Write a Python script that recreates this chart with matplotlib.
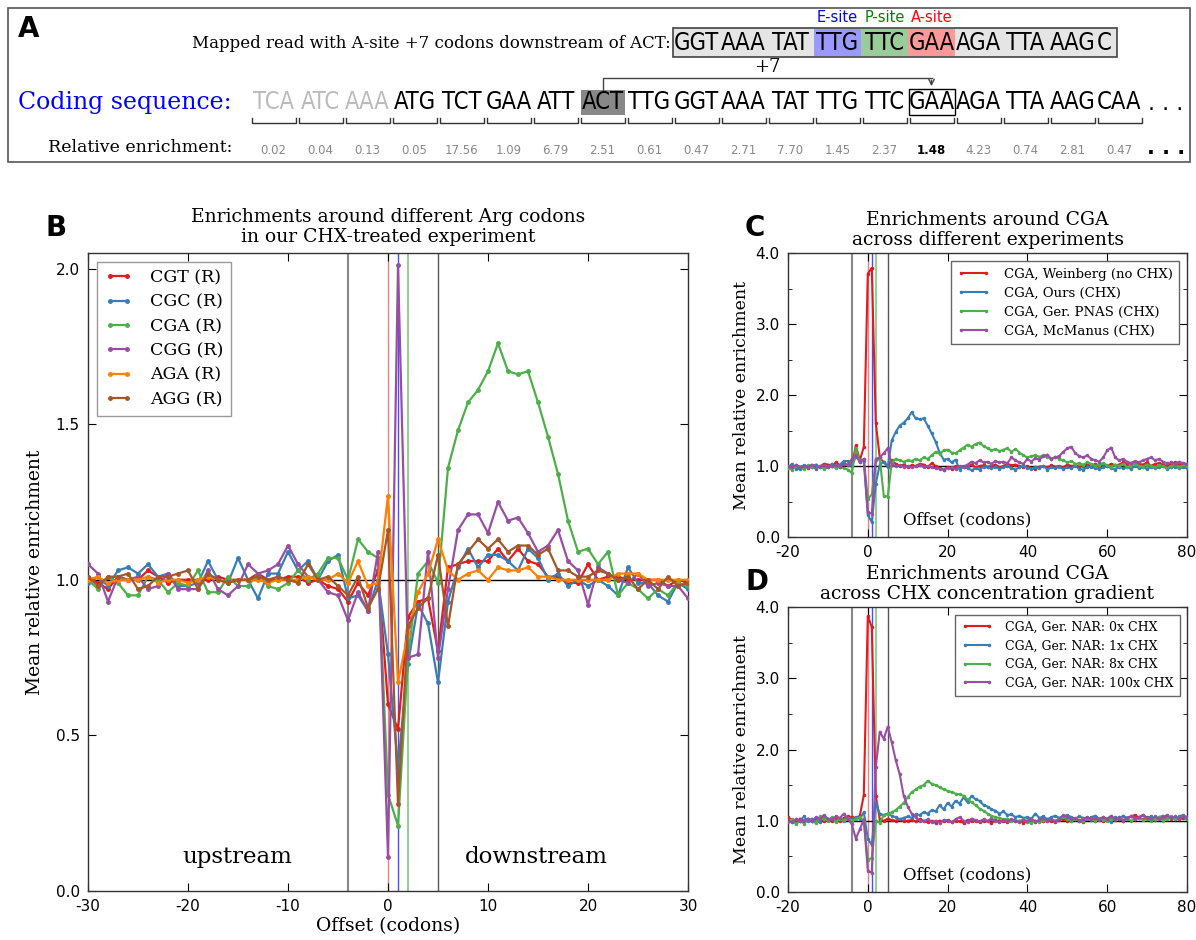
import numpy as np
import matplotlib
matplotlib.use('Agg')
import matplotlib.pyplot as plt
from matplotlib import font_manager
from matplotlib.patches import Rectangle
from matplotlib.ticker import MultipleLocator, FormatStrFormatter

plt.rcParams['axes.unicode_minus'] = False
plt.rcParams['font.family'] = 'DejaVu Sans'
SERIF = 'DejaVu Serif'

# ---------------- data: panel A ----------------
seq_codons = ['TCA', 'ATC', 'AAA', 'ATG', 'TCT', 'GAA', 'ATT', 'ACT', 'TTG', 'GGT',
              'AAA', 'TAT', 'TTG', 'TTC', 'GAA', 'AGA', 'TTA', 'AAG', 'CAA']
seq_enrich = ['0.02', '0.04', '0.13', '0.05', '17.56', '1.09', '6.79', '2.51', '0.61', '0.47',
              '2.71', '7.70', '1.45', '2.37', '1.48', '4.23', '0.74', '2.81', '0.47']
read_codons = ['GGT', 'AAA', 'TAT', 'TTG', 'TTC', 'GAA', 'AGA', 'TTA', 'AAG', 'C']
site_labels = ['E-site', 'P-site', 'A-site']

# ---------------- data: panel B (offset -30..30) ----------------
b_offsets = list(range(-30, 31))
b_labels = ['CGT (R)', 'CGC (R)', 'CGA (R)', 'CGG (R)', 'AGA (R)', 'AGG (R)']
b_cgt = [1.01, 0.99, 0.97, 1.01, 1.00, 1.00, 1.03, 1.01, 0.99, 1.00,
         1.00, 1.00, 1.00, 1.01, 1.00, 1.00, 1.00, 1.02, 1.00, 1.00,
         1.01, 1.01, 0.99, 1.00, 0.98, 0.97, 0.93, 0.99, 0.95, 1.03,
         0.60, 0.52, 0.88, 0.93, 0.94, 0.77, 1.04, 1.05, 1.06, 1.06,
         1.06, 1.10, 1.06, 1.10, 1.06, 1.05, 1.01, 1.01, 0.99, 0.99,
         1.05, 1.00, 1.01, 1.01, 1.00, 1.00, 1.00, 1.00, 0.98, 1.00,
         0.99]
b_cgc = [0.99, 1.01, 0.98, 1.03, 1.04, 1.02, 1.05, 1.01, 1.02, 0.98,
         0.98, 0.99, 1.06, 1.00, 0.99, 1.07, 1.00, 0.94, 1.02, 1.02,
         1.09, 1.03, 1.06, 1.00, 1.06, 1.08, 0.94, 0.95, 0.90, 1.00,
         0.76, 0.40, 0.73, 0.92, 0.86, 0.67, 0.93, 1.04, 1.10, 1.04,
         1.08, 1.08, 1.06, 1.03, 1.10, 1.07, 1.00, 1.02, 0.98, 1.00,
         0.98, 1.00, 0.98, 0.95, 1.04, 0.99, 0.99, 0.95, 0.93, 0.99,
         0.97]
b_cga = [1.00, 0.97, 1.01, 0.99, 0.95, 0.95, 1.01, 1.00, 0.96, 0.99,
         0.98, 1.03, 0.96, 0.96, 1.01, 0.98, 0.98, 1.02, 0.98, 0.97,
         0.99, 1.03, 1.00, 1.02, 1.07, 1.07, 1.00, 1.13, 1.09, 1.07,
         0.31, 0.21, 0.75, 1.02, 1.06, 0.99, 1.36, 1.48, 1.57, 1.61,
         1.67, 1.76, 1.67, 1.66, 1.67, 1.57, 1.46, 1.34, 1.19, 1.09,
         1.10, 1.05, 1.09, 0.95, 0.99, 0.97, 0.94, 0.97, 0.95, 0.99,
         0.98]
b_cgg = [1.05, 1.02, 0.93, 1.01, 1.00, 1.01, 0.97, 0.98, 1.02, 0.97,
         0.97, 0.97, 1.03, 0.97, 0.95, 0.98, 1.05, 1.02, 1.03, 1.05,
         1.11, 1.05, 1.01, 1.00, 0.96, 0.95, 0.87, 0.96, 0.90, 1.09,
         0.11, 2.01, 0.75, 0.76, 1.09, 0.75, 0.97, 1.16, 1.21, 1.21,
         1.15, 1.25, 1.19, 1.20, 1.15, 1.09, 1.11, 1.16, 1.06, 1.03,
         0.92, 1.04, 1.02, 1.00, 0.99, 1.02, 0.98, 0.99, 0.98, 0.98,
         0.94]
b_aga = [1.00, 1.01, 0.99, 1.00, 1.00, 1.00, 1.01, 0.99, 1.00, 1.00,
         0.99, 1.00, 1.01, 1.00, 0.99, 1.00, 1.00, 1.00, 0.99, 1.00,
         1.00, 1.00, 1.01, 1.00, 1.00, 1.02, 0.99, 1.06, 0.98, 0.99,
         1.27, 0.67, 0.83, 0.96, 1.02, 1.13, 1.03, 1.00, 1.02, 1.03,
         1.00, 1.04, 1.03, 1.03, 1.04, 1.01, 1.01, 1.00, 1.00, 1.00,
         1.00, 1.00, 1.00, 1.02, 1.02, 1.02, 1.00, 1.00, 1.00, 1.00,
         1.00]
b_agg = [1.01, 0.98, 1.01, 1.01, 1.02, 0.97, 0.98, 1.01, 1.01, 1.02,
         1.03, 0.97, 1.02, 1.00, 0.99, 1.00, 1.00, 1.01, 1.00, 1.01,
         1.00, 0.99, 1.05, 1.00, 1.01, 0.98, 0.95, 1.01, 0.91, 0.97,
         1.16, 0.28, 0.85, 0.91, 0.94, 1.08, 0.85, 1.05, 1.09, 1.13,
         1.10, 1.13, 1.09, 1.11, 1.11, 1.08, 1.10, 1.03, 1.03, 1.01,
         1.01, 1.03, 1.02, 1.00, 1.01, 0.97, 1.00, 0.97, 1.01, 0.98,
         0.99]

# ---------------- data: panels C, D (offset -20..80) ----------------
cd_offsets = list(range(-20, 81))
c_labels = ['CGA, Weinberg (no CHX)', 'CGA, Ours (CHX)', 'CGA, Ger. PNAS (CHX)', 'CGA, McManus (CHX)']
c_weinberg = [1.00, 0.98, 1.01, 0.99, 1.00, 0.97, 1.00, 1.01, 0.99, 1.03,
              1.02, 1.00, 1.05, 1.01, 1.03, 1.02, 1.00, 1.29, 1.08, 1.27,
              3.71, 3.79, 1.61, 1.12, 1.05, 1.00, 1.08, 1.03, 1.00, 1.02,
              0.99, 1.01, 1.00, 1.03, 1.02, 0.98, 1.04, 1.00, 0.97, 0.95,
              0.98, 0.96, 1.00, 0.98, 1.00, 0.99, 1.02, 0.98, 1.00, 1.01,
              0.99, 1.00, 1.02, 0.98, 1.00, 1.03, 1.01, 1.02, 1.00, 0.98,
              1.00, 0.97, 0.96, 0.99, 1.00, 0.98, 1.01, 0.99, 1.00, 0.98,
              1.02, 1.00, 1.01, 0.99, 1.00, 1.02, 1.00, 1.03, 1.00, 1.01,
              1.00, 1.03, 1.01, 1.02, 1.05, 1.03, 1.04, 1.06, 1.03, 1.02,
              1.05, 1.00, 1.03, 1.04, 1.02, 1.00, 1.03, 1.05, 1.01, 1.03,
              1.02]
c_ours_tail = [0.97, 0.99, 0.96, 0.98, 1.00, 0.97, 0.95, 0.98, 1.00, 0.97,
               0.96, 0.99, 0.97, 1.00, 0.95, 0.98, 0.97, 0.99, 0.96, 0.98,
               0.97, 1.00, 0.96, 0.95, 0.98, 0.99, 0.97, 0.96, 0.98, 1.00,
               0.97, 0.95, 0.99, 0.97, 0.98, 0.96, 1.00, 0.97, 0.98, 0.96,
               0.99, 0.97, 0.98, 1.00, 0.96, 0.98, 0.99, 0.97, 0.98, 0.97]
c_ours = b_cga[10:] + c_ours_tail
c_pnas = [0.97, 0.95, 1.00, 0.98, 0.96, 1.01, 0.98, 0.97, 1.00, 0.96,
          0.98, 1.00, 0.97, 0.99, 0.97, 0.95, 0.90, 1.25, 1.05, 1.10,
          0.53, 0.60, 1.08, 1.10, 0.58, 0.57, 1.05, 1.10, 1.08, 1.06,
          1.08, 1.07, 1.10, 1.08, 1.12, 1.10, 1.15, 1.20, 1.17, 1.22,
          1.23, 1.19, 1.18, 1.22, 1.26, 1.30, 1.27, 1.31, 1.33, 1.28,
          1.25, 1.22, 1.24, 1.21, 1.23, 1.25, 1.20, 1.24, 1.19, 1.15,
          1.12, 1.14, 1.15, 1.13, 1.15, 1.12, 1.10, 1.13, 1.10, 1.08,
          1.05, 1.07, 1.03, 1.04, 1.02, 1.05, 1.03, 1.00, 1.02, 1.04,
          1.01, 0.99, 1.02, 1.00, 1.03, 0.98, 1.01, 1.03, 1.00, 0.99,
          1.02, 1.00, 0.98, 1.01, 1.00, 0.97, 1.00, 1.02, 0.99, 1.01,
          1.00]
c_mcmanus = [1.00, 0.98, 1.01, 0.97, 1.00, 0.99, 1.02, 0.96, 1.00, 1.01,
             0.98, 1.00, 1.02, 0.99, 1.03, 1.01, 1.10, 1.15, 1.05, 1.10,
             0.35, 0.33, 1.10, 1.12, 1.18, 1.25, 1.02, 1.00, 1.01, 0.99,
             1.00, 0.98, 1.00, 1.01, 0.99, 1.00, 0.98, 0.97, 0.96, 0.95,
             0.97, 0.98, 0.96, 1.00, 0.99, 1.02, 1.06, 1.04, 1.08, 1.05,
             1.06, 1.03, 1.07, 1.05, 1.06, 1.04, 1.12, 1.08, 1.05, 1.03,
             1.10, 1.06, 1.11, 1.09, 1.14, 1.16, 1.10, 1.12, 1.14, 1.20,
             1.25, 1.27, 1.18, 1.14, 1.12, 1.15, 1.10, 1.08, 1.06, 1.12,
             1.22, 1.26, 1.12, 1.08, 1.10, 1.06, 1.04, 1.07, 1.05, 1.08,
             1.10, 1.12, 1.08, 1.10, 1.06, 1.04, 1.05, 1.03, 1.06, 1.04,
             1.03]

d_labels = ['CGA, Ger. NAR: 0x CHX', 'CGA, Ger. NAR: 1x CHX', 'CGA, Ger. NAR: 8x CHX', 'CGA, Ger. NAR: 100x CHX']
d_0x = [1.05, 1.00, 0.98, 1.03, 1.00, 1.02, 0.99, 1.04, 1.01, 1.00,
        1.03, 0.99, 1.02, 1.00, 1.04, 1.06, 1.05, 1.04, 1.07, 1.36,
        3.87, 3.72, 1.35, 1.02, 1.00, 1.03, 1.01, 1.00, 1.02, 0.99,
        1.00, 1.01, 0.99, 1.02, 1.00, 0.98, 1.00, 0.97, 1.00, 0.99,
        1.01, 0.98, 1.00, 0.99, 0.97, 1.01, 0.99, 1.00, 0.98, 1.00,
        0.99, 0.97, 1.01, 0.99, 1.00, 0.98, 1.01, 0.99, 1.00, 0.97,
        0.99, 1.00, 0.98, 1.01, 0.99, 1.02, 1.00, 0.98, 1.01, 1.03,
        1.00, 0.99, 1.02, 1.00, 0.98, 1.04, 1.01, 1.00, 1.03, 0.99,
        1.02, 1.05, 1.01, 1.03, 1.00, 1.04, 1.06, 1.08, 1.04, 1.02,
        1.05, 1.03, 1.01, 1.04, 1.02, 1.06, 1.03, 1.05, 1.02, 1.04,
        1.03]
d_1x = [1.00, 0.98, 1.02, 1.00, 1.06, 0.99, 1.03, 1.00, 0.98, 1.06,
        1.01, 1.03, 1.00, 1.02, 0.99, 1.04, 1.02, 1.05, 1.03, 1.12,
        0.75, 0.66, 1.25, 1.10, 1.08, 1.10, 1.07, 1.05, 1.02, 1.04,
        1.06, 1.04, 1.09, 1.08, 1.12, 1.10, 1.15, 1.13, 1.22, 1.16,
        1.25, 1.20, 1.28, 1.24, 1.33, 1.26, 1.35, 1.30, 1.28, 1.22,
        1.20, 1.16, 1.14, 1.10, 1.13, 1.08, 1.09, 1.05, 1.07, 1.04,
        1.05, 1.03, 1.10, 1.04, 1.06, 1.02, 1.05, 1.07, 1.04, 1.06,
        1.08, 1.05, 1.03, 1.06, 1.04, 1.02, 1.05, 1.07, 1.03, 1.05,
        1.02, 0.98, 1.05, 1.03, 1.07, 1.04, 1.06, 1.03, 1.05, 1.08,
        1.04, 1.06, 1.02, 1.05, 1.07, 1.03, 1.05, 1.02, 1.06, 1.08,
        1.05]
d_8x = [0.98, 1.02, 0.95, 1.00, 0.96, 1.02, 0.99, 0.97, 1.06, 1.02,
        1.00, 1.05, 0.98, 1.03, 1.01, 1.04, 1.00, 1.02, 1.05, 1.00,
        0.45, 0.48, 1.00, 0.97, 1.08, 1.10, 1.12, 1.15, 1.20, 1.25,
        1.33, 1.40, 1.44, 1.48, 1.50, 1.56, 1.52, 1.50, 1.47, 1.44,
        1.42, 1.40, 1.38, 1.37, 1.35, 1.30, 1.26, 1.22, 1.17, 1.14,
        1.10, 1.07, 1.05, 1.04, 1.02, 1.03, 1.00, 1.01, 0.99, 1.02,
        0.98, 0.97, 1.00, 0.98, 1.01, 0.99, 1.02, 1.00, 1.03, 1.05,
        1.02, 1.00, 1.03, 1.01, 1.00, 1.04, 1.02, 1.00, 1.03, 1.01,
        1.00, 1.03, 1.02, 1.05, 1.01, 1.03, 1.00, 1.02, 1.04, 1.01,
        1.03, 1.00, 1.02, 1.05, 1.00, 1.03, 1.06, 1.02, 1.04, 1.06,
        1.03]
d_100x = [1.00, 0.98, 1.02, 0.99, 1.00, 1.03, 0.99, 1.05, 1.02, 1.08,
          1.03, 1.02, 1.06, 1.04, 1.10, 1.03, 0.95, 0.75, 0.88, 1.02,
          0.30, 0.27, 1.75, 2.25, 2.15, 2.32, 2.10, 1.85, 1.65, 1.35,
          1.20, 1.10, 1.05, 1.00, 0.99, 1.02, 0.98, 1.00, 0.97, 1.01,
          1.00, 0.98, 1.02, 1.05, 1.00, 0.98, 1.03, 1.01, 0.99, 1.02,
          1.00, 1.03, 1.00, 0.98, 1.01, 0.99, 1.02, 1.00, 0.98, 1.01,
          1.00, 1.03, 0.99, 1.01, 1.04, 1.00, 1.02, 0.99, 1.03, 1.08,
          1.05, 1.02, 1.04, 1.00, 1.03, 1.05, 1.02, 1.04, 1.01, 1.05,
          1.03, 1.07, 1.02, 1.05, 1.00, 1.04, 1.06, 1.03, 1.05, 1.08,
          1.04, 1.02, 1.06, 1.03, 1.05, 1.08, 1.04, 1.06, 1.03, 1.07,
          1.04]

# ---------------- styles ----------------
COLORS = ['#e41a1c', '#377eb8', '#4daf4a', '#984ea3', '#ff7f00', '#a65628']

fonts = {(f.name, f.stretch) for f in font_manager.fontManager.ttflist}
fnames = {n for n, s in fonts}
if ('DejaVu Sans', 'condensed') in fonts or ('DejaVu Sans', 'semi-condensed') in fonts:
    codon_kw = dict(family='DejaVu Sans', stretch='condensed', fontsize=17)
elif 'Liberation Sans Narrow' in fnames:
    codon_kw = dict(family='Liberation Sans Narrow', fontsize=19)
else:
    codon_kw = dict(family='DejaVu Sans', fontsize=15)

W, H = 1196, 940
fig = plt.figure(figsize=(W / 100, H / 100), dpi=100)
fig.patch.set_facecolor('white')

# ---------------- panel A (pixel coordinates) ----------------
axA = fig.add_axes([0, 0, 1, 1])
axA.set_xlim(0, W)
axA.set_ylim(H, 0)
axA.axis('off')

axA.add_patch(Rectangle((8, 8), 1182, 154, fill=False, ec='#555555', lw=1.2))
axA.text(18, 29, 'A', fontsize=20, fontweight='bold', ha='left', va='center')
axA.text(671, 43, 'Mapped read with A-site +7 codons downstream of ACT:', family=SERIF,
         fontsize=12, ha='right', va='center')

pitch = 47
x0_seq = 250
x0_read = x0_seq + pitch * 9
site_cols = ['#9999ff', '#99cc99', '#ff9999']
axA.add_patch(Rectangle((x0_read, 28), 444, 29, fc='#e5e5e5', ec='#444444', lw=1.2, zorder=1))
for k, (lab, fc, tc) in enumerate(zip(site_labels, site_cols, ['#0000ff', '#008000', '#ff0000'])):
    xs = x0_read + pitch * (3 + k)
    axA.add_patch(Rectangle((xs, 28.6), pitch, 27.8, fc=fc, ec='none', zorder=2))
    axA.text(xs + pitch / 2, 18, lab, color=tc, fontsize=10.5, ha='center', va='center')
for k, cod in enumerate(read_codons):
    cx = x0_read + pitch * k + (pitch / 2 if len(cod) == 3 else 8)
    axA.text(cx, 43, cod, ha='center', va='center', zorder=3, **codon_kw)

axA.text(18, 102, 'Coding sequence:', family=SERIF, fontsize=17, color='#0000ff', ha='left', va='center')
for i, cod in enumerate(seq_codons):
    cx = x0_seq + pitch * i + pitch / 2
    col = '#bbbbbb' if i < 3 else 'black'
    if cod == 'ACT' and i == 7:
        axA.add_patch(Rectangle((cx - 22, 90), 44, 25, fc='#888888', ec='none', zorder=1))
    if i == 14:
        axA.add_patch(Rectangle((cx - 23, 89), 46, 26, fill=False, ec='black', lw=1.0, zorder=2))
    axA.text(cx, 102, cod, color=col, ha='center', va='center', zorder=3, **codon_kw)
    bx0, bx1 = x0_seq + pitch * i + 1.5, x0_seq + pitch * (i + 1) - 1.5
    axA.plot([bx0, bx0, bx1, bx1], [118, 123, 123, 118], color='#333333', lw=1)
    val = seq_enrich[i]
    if i == 14:
        axA.text(cx, 150, val, fontsize=8.5, fontweight='bold', color='black', ha='center', va='center')
    else:
        axA.text(cx, 150, val, fontsize=8.5, color='#888888', ha='center', va='center')
axA.text(1166, 104, '. . .', fontsize=16, ha='center', va='center')
axA.text(1166, 148, '. . .', fontsize=15, fontweight='bold', ha='center', va='center')
axA.text(232, 148, 'Relative enrichment:', family=SERIF, fontsize=12.5, ha='right', va='center')

# +7 arrow
xa = x0_seq + pitch * 7 + pitch / 2
xb = x0_seq + pitch * 14 + pitch / 2
axA.plot([xa, xa, xb], [90, 78, 78], color='#444444', lw=1)
axA.annotate('', xy=(xb, 89), xytext=(xb, 77.5),
             arrowprops=dict(arrowstyle='->', color='#444444', lw=1))
axA.text((xa + xb) / 2, 67, '+7', family=SERIF, fontsize=13, ha='center', va='center')

# panel letters
axA.text(45, 228, 'B', fontsize=20, fontweight='bold', ha='left', va='center')
axA.text(745, 228, 'C', fontsize=20, fontweight='bold', ha='left', va='center')
axA.text(745, 582, 'D', fontsize=20, fontweight='bold', ha='left', va='center')


def style_axes(ax, fs=11):
    ax.tick_params(direction='in', top=True, right=True, length=6, width=0.8,
                   labelsize=fs, pad=6)
    ax.tick_params(which='minor', direction='in', top=True, right=True, length=3)
    for s in ax.spines.values():
        s.set_color('#333333')
        s.set_linewidth(1.0)


def guides(ax):
    ax.axvline(-4, color='#888888', lw=1.5, zorder=1)
    ax.axvline(5, color='#555555', lw=1.0, zorder=1)
    ax.axvline(0, color='#e41a1c', lw=1.0, alpha=0.55, zorder=1)
    ax.axvline(1, color='#0000ff', lw=1.0, alpha=0.7, zorder=1)
    ax.axvline(2, color='#4daf4a', lw=1.2, alpha=0.7, zorder=1)
    ax.axhline(1.0, color='black', lw=1.0, zorder=1)


# ---------------- panel B ----------------
axB = fig.add_axes([88 / W, 1 - 891 / H, 600 / W, 638 / H])
guides(axB)
for vals, lab, col in zip([b_cgt, b_cgc, b_cga, b_cgg, b_aga, b_agg], b_labels, COLORS):
    axB.plot(b_offsets, vals, color=col, lw=1.6, marker='.', ms=5, label=lab, zorder=3)
axB.set_xlim(-30, 30)
axB.set_ylim(0, 2.05)
axB.xaxis.set_major_locator(MultipleLocator(10))
axB.yaxis.set_major_locator(MultipleLocator(0.5))
axB.yaxis.set_major_formatter(FormatStrFormatter('%.1f'))
style_axes(axB)
axB.set_title('Enrichments around different Arg codons\nin our CHX-treated experiment',
              family=SERIF, fontsize=13.5, pad=8, linespacing=1.15)
axB.set_xlabel('Offset (codons)', family=SERIF, fontsize=13.5, labelpad=2)
axB.set_ylabel('Mean relative enrichment', family=SERIF, fontsize=13.5, labelpad=8)
axB.text(-15.1, 0.11, 'upstream', family=SERIF, fontsize=16.5, ha='center', va='center')
axB.text(14.8, 0.11, 'downstream', family=SERIF, fontsize=16.5, ha='center', va='center')
legB = axB.legend(loc='upper left', prop=dict(family=SERIF, size=12.5), numpoints=2,
                  handlelength=1.6, borderpad=0.45, labelspacing=0.42, handletextpad=1.0,
                  fancybox=False, framealpha=1, borderaxespad=0.5)
legB.get_frame().set_edgecolor('#999999')

# ---------------- panels C and D ----------------
def cd_panel(rect, series, labels, title, leg_fs):
    ax = fig.add_axes(rect)
    guides(ax)
    for vals, lab, col in zip(series, labels, COLORS[:4]):
        ax.plot(cd_offsets, vals, color=col, lw=1.5, marker='.', ms=3, label=lab, zorder=3)
    ax.set_xlim(-20, 80)
    ax.set_ylim(0, 4.0)
    ax.xaxis.set_major_locator(MultipleLocator(20))
    ax.yaxis.set_major_locator(MultipleLocator(1.0))
    ax.yaxis.set_minor_locator(MultipleLocator(0.5))
    ax.yaxis.set_major_formatter(FormatStrFormatter('%.1f'))
    style_axes(ax, fs=11)
    ax.set_title(title, family=SERIF, fontsize=13.5, pad=6, linespacing=1.1)
    ax.set_ylabel('Mean relative enrichment', family=SERIF, fontsize=12.5, labelpad=4)
    ax.text(0.45, 0.03, 'Offset (codons)', transform=ax.transAxes, family=SERIF,
            fontsize=12, ha='center', va='bottom')
    leg = ax.legend(loc='upper right', prop=dict(family=SERIF, size=leg_fs), numpoints=2,
                    handlelength=2.5, borderpad=0.5, labelspacing=0.45, handletextpad=1.0,
                    fancybox=False, framealpha=1, borderaxespad=0.6)
    leg.get_frame().set_edgecolor('#666666')
    return ax


cd_panel([788 / W, 1 - 537 / H, 399 / W, 284 / H],
         [c_weinberg, c_ours, c_pnas, c_mcmanus], c_labels,
         'Enrichments around CGA\nacross different experiments', 9.5)
cd_panel([788 / W, 1 - 892 / H, 399 / W, 285 / H],
         [d_0x, d_1x, d_8x, d_100x], d_labels,
         'Enrichments around CGA\nacross CHX concentration gradient', 9.0)

fig.savefig('out.png', dpi=100, facecolor='white')
